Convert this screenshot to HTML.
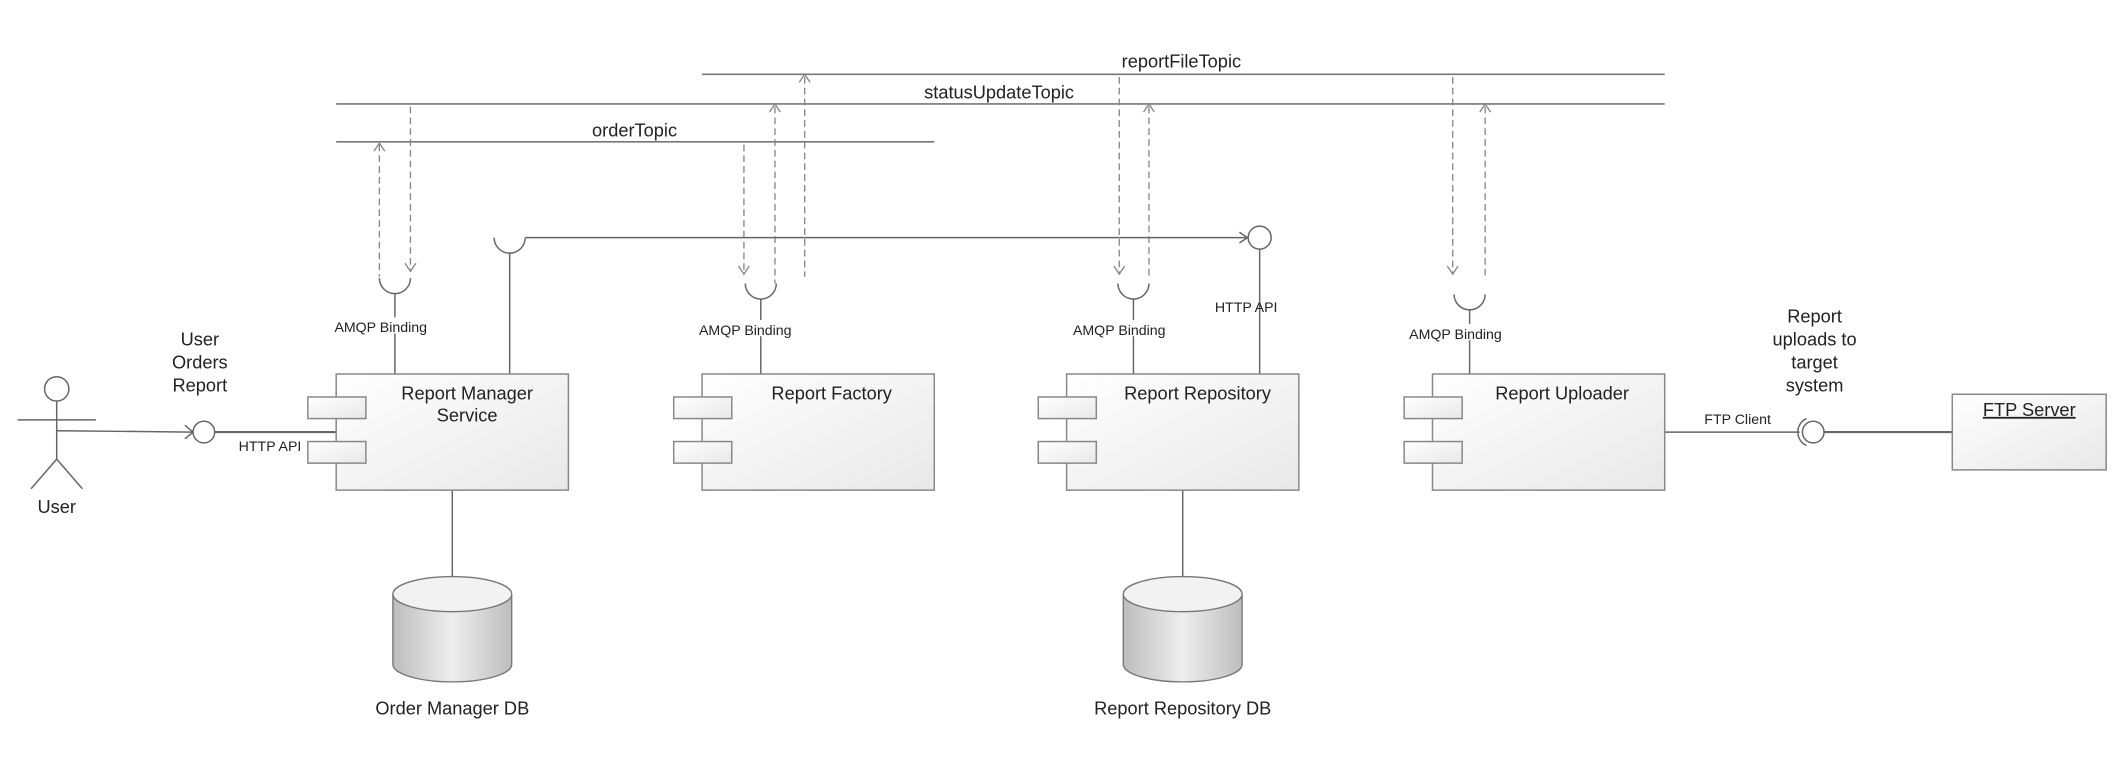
<!DOCTYPE html>
<html><head><meta charset="utf-8"><style>
html,body{margin:0;padding:0;background:#fff;}
svg{display:block;}
text{font-family:"Liberation Sans",sans-serif;fill:#222;}
</style></head><body>
<svg width="2117" height="761" viewBox="0 0 1568 563.6" preserveAspectRatio="none" xmlns="http://www.w3.org/2000/svg">
<defs>
<linearGradient id="bx" x1="0" y1="0" x2="1" y2="1"><stop offset="0" stop-color="#ffffff"/><stop offset="1" stop-color="#e8e8e8"/></linearGradient>
<linearGradient id="cy" x1="0" y1="0" x2="1" y2="0"><stop offset="0" stop-color="#bdbdbd"/><stop offset="0.5" stop-color="#eeeeee"/><stop offset="1" stop-color="#bdbdbd"/></linearGradient>
</defs>
<g stroke="#777" stroke-width="1.2" fill="none">
<!-- topics -->
<line x1="520" y1="55" x2="1233" y2="55"/>
<line x1="249" y1="77" x2="1233" y2="77"/>
<line x1="249" y1="105" x2="692" y2="105"/>
</g>
<text x="875" y="50" font-size="13.5" text-anchor="middle">reportFileTopic</text>
<text x="740" y="73" font-size="13.5" text-anchor="middle">statusUpdateTopic</text>
<text x="470" y="101" font-size="13.5" text-anchor="middle">orderTopic</text>

<g stroke="#888" stroke-width="1" fill="none" stroke-dasharray="5,3">
<line x1="281" y1="107" x2="281" y2="205"/>
<line x1="304" y1="79" x2="304" y2="200"/>
<line x1="551" y1="107" x2="551" y2="203"/>
<line x1="574" y1="79" x2="574" y2="210"/>
<line x1="596" y1="57" x2="596" y2="205"/>
<line x1="829" y1="57" x2="829" y2="203"/>
<line x1="851" y1="79" x2="851" y2="205"/>
<line x1="1076" y1="57" x2="1076" y2="203"/>
<line x1="1100" y1="79" x2="1100" y2="205"/>
</g>
<g stroke="#888" stroke-width="1" fill="none">
<polyline points="277,112 281,106 285,112"/>
<polyline points="300,195 304,201 308,195"/>
<polyline points="547,197 551,203 555,197"/>
<polyline points="570,83 574,77 578,83"/>
<polyline points="592,61 596,55 600,61"/>
<polyline points="825,197 829,203 833,197"/>
<polyline points="847,83 851,77 855,83"/>
<polyline points="1072,197 1076,203 1080,197"/>
<polyline points="1096,83 1100,77 1104,83"/>
</g>

<g stroke="#666" stroke-width="1.1" fill="none">
<!-- sockets -->
<path d="M281,206 A11,11 0 0 0 304,206"/><line x1="292.5" y1="217" x2="292.5" y2="277"/>
<path d="M552,210 A11,11 0 0 0 575,210"/><line x1="563.5" y1="221" x2="563.5" y2="277"/>
<path d="M828,210 A11,11 0 0 0 851,210"/><line x1="839.5" y1="221" x2="839.5" y2="277"/>
<path d="M1077,218 A11,11 0 0 0 1100,218"/><line x1="1088.5" y1="229" x2="1088.5" y2="277"/>
<path d="M366,176 A11,11 0 0 0 389,176"/><line x1="377.5" y1="187" x2="377.5" y2="277"/>
<line x1="389" y1="176" x2="924" y2="176"/>
<polyline points="918,172 924,176 918,180"/>
<circle cx="933" cy="176" r="8.5" fill="#fff"/>
<line x1="933" y1="184.5" x2="933" y2="277"/>
<!-- DB links -->
<line x1="335" y1="363" x2="335" y2="428"/>
<line x1="876" y1="363" x2="876" y2="428"/>
<!-- user -->
<circle cx="42" cy="288" r="9"/>
<line x1="42" y1="297" x2="42" y2="340"/>
<line x1="13" y1="311" x2="71" y2="311"/>
<line x1="42" y1="340" x2="23" y2="362"/>
<line x1="42" y1="340" x2="61" y2="362"/>
<line x1="42" y1="319" x2="143" y2="320"/>
<polyline points="137,315 143,320 137,325"/>
<circle cx="151" cy="320" r="8" fill="#fff"/>
<line x1="159" y1="320" x2="249" y2="320" stroke-width="1.6"/>
<!-- FTP -->
<line x1="1233" y1="320" x2="1333" y2="320"/>
<path d="M1338,310 A11,11 0 0 0 1338,330"/>
<circle cx="1343" cy="320" r="8" fill="#fff"/>
<line x1="1351" y1="320" x2="1446" y2="320" stroke-width="1.6"/>
</g>

<!-- boxes -->
<g stroke="#888" stroke-width="1.1" fill="url(#bx)">
<rect x="249" y="277" width="172" height="86"/>
<rect x="520" y="277" width="172" height="86"/>
<rect x="790" y="277" width="172" height="86"/>
<rect x="1061" y="277" width="172" height="86"/>
<rect x="1446" y="292" width="114" height="56"/>
<rect x="228" y="294" width="43" height="16"/><rect x="228" y="327" width="43" height="16"/>
<rect x="499" y="294" width="43" height="16"/><rect x="499" y="327" width="43" height="16"/>
<rect x="769" y="294" width="43" height="16"/><rect x="769" y="327" width="43" height="16"/>
<rect x="1040" y="294" width="43" height="16"/><rect x="1040" y="327" width="43" height="16"/>
</g>
<!-- cylinders -->
<g stroke="#777" stroke-width="1">
<path d="M291,440 L291,492 A44,13 0 0 0 379,492 L379,440" fill="url(#cy)"/>
<ellipse cx="335" cy="440" rx="44" ry="13" fill="#f2f2f2"/>
<path d="M832,440 L832,492 A44,13 0 0 0 920,492 L920,440" fill="url(#cy)"/>
<ellipse cx="876" cy="440" rx="44" ry="13" fill="#f2f2f2"/>
</g>

<g font-size="13.5" text-anchor="middle">
<text x="346" y="296">Report Manager</text>
<text x="346" y="312">Service</text>
<text x="616" y="296">Report Factory</text>
<text x="887" y="296">Report Repository</text>
<text x="1157" y="296">Report Uploader</text>
<text x="1503" y="308" text-decoration="underline">FTP Server</text>
<text x="335" y="529">Order Manager DB</text>
<text x="876" y="529">Report Repository DB</text>
<text x="42" y="380">User</text>
<text x="148" y="256">User</text>
<text x="148" y="273">Orders</text>
<text x="148" y="290">Report</text>
<text x="1344" y="239">Report</text>
<text x="1344" y="256">uploads to</text>
<text x="1344" y="273">target</text>
<text x="1344" y="290">system</text>
</g>
<g font-size="10.5" text-anchor="middle">
<rect x="244" y="235" width="76" height="12" fill="#fff"/>
<text x="282" y="246">AMQP Binding</text>
<rect x="514" y="237" width="76" height="12" fill="#fff"/>
<text x="552" y="248">AMQP Binding</text>
<rect x="791" y="237" width="76" height="12" fill="#fff"/>
<text x="829" y="248">AMQP Binding</text>
<rect x="1040" y="240" width="76" height="12" fill="#fff"/>
<text x="1078" y="251">AMQP Binding</text>
<text x="923" y="231">HTTP API</text>
<text x="200" y="334">HTTP API</text>
<text x="1287" y="314">FTP Client</text>
</g>
</svg>
</body></html>
